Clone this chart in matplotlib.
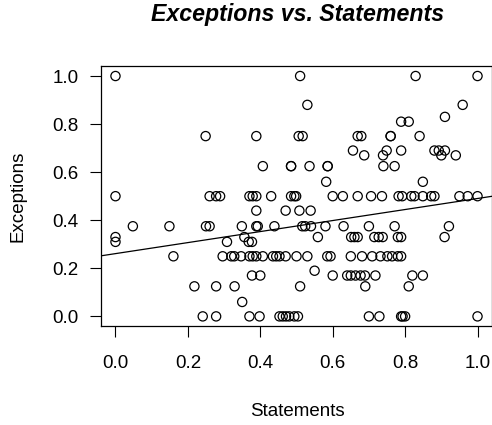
import numpy as np
import matplotlib
matplotlib.use("Agg")
import matplotlib.pyplot as plt

plt.rcParams['font.family'] = ['Liberation Sans', 'DejaVu Sans']

# points, one line per exceptions level
statements = [
    0.0, 0.51, 0.829, 1.0,
    0.53, 0.959,
    0.91,
    0.789, 0.81,
    0.249, 0.389, 0.506, 0.517, 0.669, 0.679, 0.76, 0.76, 0.84,
    0.656, 0.749, 0.789, 0.881, 0.893, 0.91,
    0.687, 0.739, 0.90, 0.94,
    0.407, 0.485, 0.485, 0.536, 0.586, 0.586, 0.74, 0.771,
    0.582, 0.849,
    0.0, 0.26, 0.278, 0.289, 0.37, 0.379, 0.389, 0.43, 0.485, 0.494, 0.499, 0.60, 0.628,
    0.669, 0.706, 0.736, 0.782, 0.792, 0.817, 0.826, 0.849, 0.872, 0.881, 0.95, 0.973, 1.0,
    0.389, 0.47, 0.508, 0.539,
    0.048, 0.149, 0.25, 0.26, 0.349, 0.389, 0.393, 0.439, 0.516, 0.524, 0.54, 0.58, 0.63,
    0.70, 0.771, 0.921,
    0.0, 0.356, 0.559, 0.651, 0.66, 0.669, 0.715, 0.727, 0.738, 0.78, 0.789, 0.909,
    0.0, 0.308, 0.368, 0.377,
    0.16, 0.296, 0.32, 0.328, 0.347, 0.37, 0.379, 0.389, 0.407, 0.435, 0.444, 0.453, 0.47,
    0.50, 0.53, 0.585, 0.594, 0.65, 0.681, 0.709, 0.732, 0.751, 0.764, 0.78, 0.789,
    0.55,
    0.377, 0.40, 0.60, 0.64, 0.65, 0.663, 0.677, 0.689, 0.718, 0.82, 0.849,
    0.218, 0.278, 0.329, 0.51, 0.69, 0.81,
    0.35,
    0.241, 0.278, 0.37, 0.398, 0.453, 0.462, 0.471, 0.48, 0.494, 0.504, 0.70, 0.729,
    0.789, 0.793, 0.80, 1.0,
]
exceptions = [
    1.0, 1.0, 1.0, 1.0,
    0.88, 0.88,
    0.83,
    0.81, 0.81,
    0.75, 0.75, 0.75, 0.75, 0.75, 0.75, 0.75, 0.75, 0.75,
    0.69, 0.69, 0.69, 0.69, 0.69, 0.69,
    0.67, 0.67, 0.67, 0.67,
    0.625, 0.625, 0.625, 0.625, 0.625, 0.625, 0.625, 0.625,
    0.56, 0.56,
    0.5, 0.5, 0.5, 0.5, 0.5, 0.5, 0.5, 0.5, 0.5, 0.5, 0.5, 0.5, 0.5,
    0.5, 0.5, 0.5, 0.5, 0.5, 0.5, 0.5, 0.5, 0.5, 0.5, 0.5, 0.5, 0.5,
    0.44, 0.44, 0.44, 0.44,
    0.375, 0.375, 0.375, 0.375, 0.375, 0.375, 0.375, 0.375, 0.375, 0.375, 0.375, 0.375, 0.375,
    0.375, 0.375, 0.375,
    0.33, 0.33, 0.33, 0.33, 0.33, 0.33, 0.33, 0.33, 0.33, 0.33, 0.33, 0.33,
    0.31, 0.31, 0.31, 0.31,
    0.25, 0.25, 0.25, 0.25, 0.25, 0.25, 0.25, 0.25, 0.25, 0.25, 0.25, 0.25, 0.25,
    0.25, 0.25, 0.25, 0.25, 0.25, 0.25, 0.25, 0.25, 0.25, 0.25, 0.25, 0.25,
    0.19,
    0.17, 0.17, 0.17, 0.17, 0.17, 0.17, 0.17, 0.17, 0.17, 0.17, 0.17,
    0.125, 0.125, 0.125, 0.125, 0.125, 0.125,
    0.06,
    0.0, 0.0, 0.0, 0.0, 0.0, 0.0, 0.0, 0.0, 0.0, 0.0, 0.0, 0.0,
    0.0, 0.0, 0.0, 0.0,
]
ticks = [0.0, 0.2, 0.4, 0.6, 0.8, 1.0]
tick_labels = ['0.0', '0.2', '0.4', '0.6', '0.8', '1.0']

x = np.array(statements)
y = np.array(exceptions)
slope, intercept = np.polyfit(x, y, 1)

fig = plt.figure(figsize=(4.92, 4.25), dpi=100)
ax = fig.add_axes([101/492, 1 - 326/425, 391/492, (326 - 66.4)/425])

ax.scatter(x, y, s=44, facecolors='none', edgecolors='black', linewidths=0.9, zorder=3)
ax.axline((0, intercept), slope=slope, color='black', lw=0.9)

ax.set_xlim(-0.04, 1.04)
ax.set_ylim(-0.04, 1.04)
ax.set_xticks(ticks)
ax.set_xticklabels(tick_labels)
ax.set_yticks(ticks)
ax.set_yticklabels(tick_labels)
ax.tick_params(axis='both', direction='out', length=8, width=0.8, labelsize=13.5, color='black')
ax.tick_params(axis='x', pad=13)
ax.tick_params(axis='y', pad=8)
for sp in ax.spines.values():
    sp.set_linewidth(0.9)

fig.text(297.5/492, 1 - 21/425, 'Exceptions vs. Statements', ha='center', va='baseline',
         fontsize=16.7, fontweight='bold', fontstyle='italic')
fig.text(297/492, 1 - 412/425, 'Statements', ha='center', va='center', fontsize=13.5)
fig.text(18/492, 1 - 196/425, 'Exceptions', ha='center', va='center', rotation=90, fontsize=13.5)

fig.savefig('out.png', dpi=100)
